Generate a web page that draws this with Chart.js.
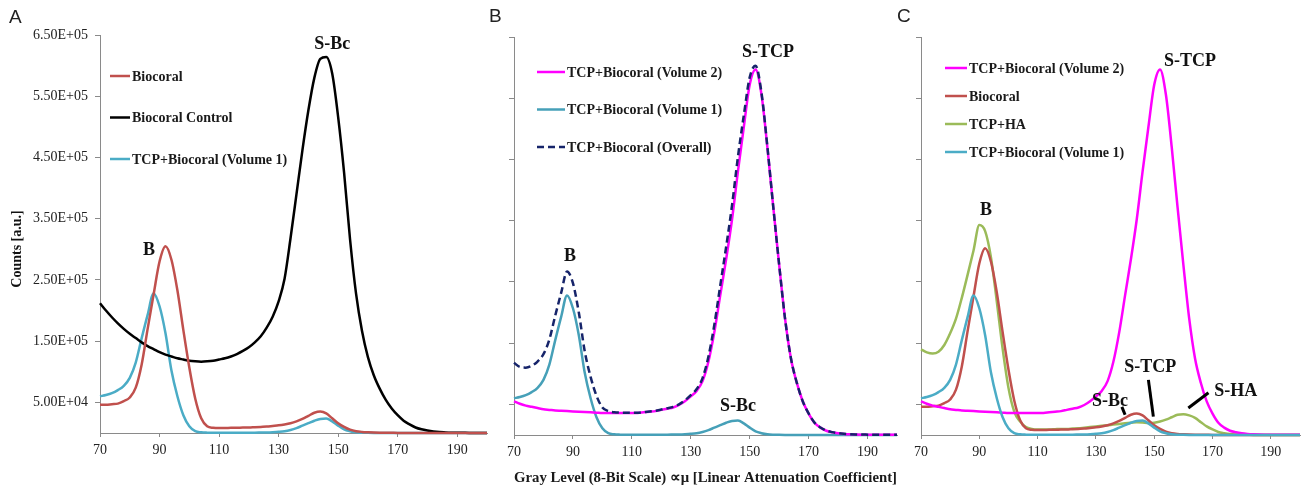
<!DOCTYPE html>
<html>
<head>
<meta charset="utf-8">
<title>Gray level histograms</title>
<script src="https://cdn.jsdelivr.net/npm/chart.js@4.4.1/dist/chart.umd.min.js"></script>
<style>
  body { margin: 0; background: #fff; }
  #wrap { position: relative; width: 1301px; height: 490px; overflow: hidden; }
  #wrap canvas { position: absolute; top: 0; }
  .panel { position: absolute; font-family: "Liberation Sans", Arial, sans-serif; font-size: 19px; color: #222; }
</style>
</head>
<body>
<div id="wrap">
  <canvas id="chartA" width="500" height="490" style="left:0px"></canvas>
  <canvas id="chartB" width="435" height="490" style="left:490px"></canvas>
  <canvas id="chartC" width="396" height="490" style="left:905px"></canvas>
  <div class="panel" style="left:9px;top:6px">A</div>
  <div class="panel" style="left:489px;top:5px">B</div>
  <div class="panel" style="left:897px;top:5px">C</div>
</div>

<script>
// gray level (x), one sample every 2 levels
const grayLevels = [70, 72, 74, 76, 78, 80, 82, 84, 86, 88,
    90, 92, 94, 96, 98, 100, 102, 104, 106, 108,
    110, 112, 114, 116, 118, 120, 122, 124, 126, 128,
    130, 132, 134, 136, 138, 140, 142, 144, 146, 148,
    150, 152, 154, 156, 158, 160, 162, 164, 166, 168,
    170, 172, 174, 176, 178, 180, 182, 184, 186, 188,
    190, 192, 194, 196, 198, 200];

// counts in thousands
const biocoral = [46, 46, 47, 48, 52, 58, 74, 112, 170, 226,
    280, 305, 283, 233, 168, 107, 56, 24, 11, 8.5,
    8, 8, 8.5, 8.5, 9, 9, 9.5, 10, 10.5, 11.5,
    12.5, 14, 16, 19, 23, 28, 33, 35, 32, 24,
    16, 10, 5.5, 3, 1.8, 1.2, 0.8, 0.5, 0.4, 0.3,
    0.2, 0.2, 0.2, 0.2, 0.2, 0.2, 0.2, 0.2, 0.2, 0.2,
    0.2, 0.2, 0.2, 0.2, 0.2, 0.2];

const biocoralControl = [212, 200, 189, 179, 170, 162, 155, 148, 142, 137,
    132, 128, 125, 122, 120, 118, 117, 116.5, 117, 118,
    120, 122, 125, 129, 134, 140, 148, 158, 172, 190,
    215, 252, 318, 390, 462, 527, 580, 611, 614, 587,
    516, 425, 316, 228, 167, 124, 94, 72, 54, 40,
    29, 20, 14, 9, 6, 4, 2.5, 1.5, 1, 0.6,
    0.4, 0.3, 0.2, 0.2, 0.2, 0.2];

const tcpBiocoralVol1 = [60, 62, 65, 70, 77, 90, 115, 155, 193, 228,
    207, 163, 102, 60, 29, 11, 3, 1.2, 0.6, 0.4,
    0.3, 0.3, 0.3, 0.3, 0.4, 0.5, 0.6, 0.8, 1, 1.4,
    2, 3, 5, 8, 12, 16, 20, 23, 23.5, 19,
    12, 6, 3, 1.2, 0.5, 0.3, 0.2, 0.2, 0.2, 0.2,
    0.2, 0.2, 0.2, 0.2, 0.2, 0.2, 0.2, 0.2, 0.2, 0.2,
    0.2, 0.2, 0.2, 0.2, 0.2, 0.2];

const tcpBiocoralVol2 = [55, 51, 48, 46, 44, 42, 41, 40, 39.5, 39,
    38.5, 38, 37.5, 37, 36.5, 36, 36, 36, 36, 36,
    36, 36, 37, 38, 39, 41, 43, 45, 49, 55,
    63, 72, 88, 120, 168, 228, 287, 352, 430, 503,
    572, 597, 556, 470, 372, 278, 190, 125, 85, 55,
    35, 20, 12, 7, 4.5, 2.8, 1.8, 1.2, 0.8, 0.5,
    0.4, 0.3, 0.3, 0.3, 0.3, 0.3];

const tcpBiocoralOverall = [118, 111, 110, 113, 120, 132, 156, 195, 232, 267,
    248, 200, 137, 95, 64, 45, 39, 37, 36.5, 36.4,
    36.3, 36.3, 37.3, 38.3, 39.4, 41.5, 43.6, 46, 50, 56.5,
    65, 75, 93, 128, 180, 244, 307, 375, 454, 522,
    584, 603, 559, 471, 372.5, 278.3, 190.2, 125.2, 85.2, 55.2,
    35.2, 20.2, 12.2, 7.2, 4.7, 3, 2, 1.4, 1, 0.7,
    0.6, 0.5, 0.5, 0.5, 0.5, 0.5];

const tcpHA = [140, 135, 133, 136, 147, 166, 190, 224, 262, 301,
    343, 333, 290, 218, 141, 77, 38, 22, 13, 10,
    9, 9, 9, 9.5, 10, 10, 10.5, 11, 12, 13,
    14, 15, 16, 17, 18, 19, 20, 21, 20.5, 19.5,
    20, 22, 25, 29, 33, 34, 32, 28, 21, 14,
    9, 5, 3, 1.5, 0.8, 0.4, 0.3, 0.2, 0.2, 0.2,
    0.2, 0.2, 0.2, 0.2, 0.2, 0.2];

const xTicks = [70, 90, 110, 130, 150, 170, 190];
const yTicks = [50, 150, 250, 350, 450, 550, 650];
const yTickLabels = ['5.00E+04', '1.50E+05', '2.50E+05', '3.50E+05', '4.50E+05', '5.50E+05', '6.50E+05'];

const serif = '"Liberation Serif", "Times New Roman", serif';

function pts(series) {
    return grayLevels.map((g, i) => ({ x: g, y: series[i] }));
}

function line(label, series, color, extra) {
    return Object.assign({
        label: label,
        data: pts(series),
        borderColor: color,
        backgroundColor: color,
        borderWidth: 2.5,
        pointRadius: 0,
        cubicInterpolationMode: 'monotone',
        clip: 6
    }, extra || {});
}

// legend, labels and leader lines drawn on top of the curves
function makeDecor(cfg) {
    return {
        id: 'decor',
        afterDatasetsDraw(chart) {
            const ctx = chart.ctx;
            const sx = chart.scales.x, sy = chart.scales.y;
            ctx.save();

            const lg = cfg.legend;
            ctx.font = 'bold 14px ' + serif;
            ctx.textBaseline = 'middle';
            ctx.textAlign = 'left';
            lg.items.forEach((idx, row) => {
                const ds = chart.data.datasets[idx];
                const yy = lg.y + row * lg.rowGap;
                ctx.strokeStyle = ds.borderColor;
                ctx.lineWidth = ds.borderWidth;
                ctx.setLineDash(ds.borderDash || []);
                ctx.beginPath();
                ctx.moveTo(lg.x, yy);
                ctx.lineTo(lg.x + lg.lineLen, yy);
                ctx.stroke();
                ctx.setLineDash([]);
                ctx.fillStyle = '#1a1a1a';
                ctx.fillText(ds.label, lg.x + lg.lineLen + 2, yy + 1);
            });

            ctx.strokeStyle = '#000';
            ctx.lineWidth = 3;
            (cfg.leaders || []).forEach(l => {
                ctx.beginPath();
                ctx.moveTo(sx.getPixelForValue(l.x1), sy.getPixelForValue(l.y1));
                ctx.lineTo(sx.getPixelForValue(l.x2), sy.getPixelForValue(l.y2));
                ctx.stroke();
            });

            ctx.font = 'bold 18px ' + serif;
            ctx.textAlign = 'center';
            ctx.fillStyle = '#111';
            (cfg.notes || []).forEach(n => {
                ctx.fillText(n.text, sx.getPixelForValue(n.x), sy.getPixelForValue(n.y));
            });

            if (cfg.yTitle) {
                ctx.translate(cfg.yTitle.x, cfg.yTitle.y);
                ctx.rotate(-Math.PI / 2);
                ctx.font = 'bold 14px ' + serif;
                ctx.fillText(cfg.yTitle.text, 0, 0);
            }
            ctx.restore();
        }
    };
}

function makeChart(id, datasets, box, decor, showYLabels, xTitle) {
    const ctx = document.getElementById(id).getContext('2d');
    return new Chart(ctx, {
        type: 'line',
        data: { datasets: datasets },
        options: {
            responsive: false,
            animation: false,
            events: [],
            layout: { padding: { top: box.top, right: box.right, left: 0, bottom: 0 } },
            plugins: { legend: { display: false }, tooltip: { enabled: false } },
            scales: {
                x: {
                    type: 'linear',
                    min: 70,
                    max: 200,
                    afterBuildTicks: s => { s.ticks = xTicks.map(v => ({ value: v })); },
                    afterFit: s => { s.height = box.xHeight; },
                    grid: { drawOnChartArea: false, drawTicks: true, tickLength: 4, color: '#8a8a8a' },
                    border: { color: '#8a8a8a', width: 1 },
                    ticks: { color: '#222', padding: 5, maxRotation: 0, font: { family: serif, size: 14 } },
                    title: {
                        display: !!xTitle,
                        text: xTitle || '',
                        color: '#1a1a1a',
                        font: { family: serif, size: 15, weight: 'bold' },
                        padding: { top: 4, bottom: 3 }
                    }
                },
                y: {
                    min: 0,
                    max: 650,
                    afterBuildTicks: s => { s.ticks = yTicks.map(v => ({ value: v })); },
                    afterFit: s => { s.width = box.left; },
                    grid: { drawOnChartArea: false, drawTicks: true, tickLength: 5, color: '#8a8a8a' },
                    border: { color: '#8a8a8a', width: 1 },
                    ticks: {
                        color: '#222',
                        padding: 7,
                        font: { family: serif, size: 14 },
                        callback: (v, i) => showYLabels ? yTickLabels[i] : ''
                    }
                }
            }
        },
        plugins: [makeDecor(decor)]
    });
}

// Panel A
makeChart('chartA', [
    line('Biocoral', biocoral, '#C0504D'),
    line('Biocoral Control', biocoralControl, '#000000'),
    line('TCP+Biocoral (Volume 1)', tcpBiocoralVol1, '#4BACC6')
], { left: 100, right: 13, top: 35, xHeight: 57 }, {
    legend: { x: 110, y: 76, rowGap: 41.5, lineLen: 20, items: [0, 1, 2] },
    notes: [
        { text: 'S-Bc', x: 148, y: 634 },
        { text: 'B', x: 86.5, y: 299 }
    ],
    yTitle: { text: 'Counts [a.u.]', x: 17.5, y: 249 }
}, true, '');

// Panel B
makeChart('chartB', [
    line('TCP+Biocoral (Volume 2)', tcpBiocoralVol2, '#FF00FF'),
    line('TCP+Biocoral (Volume 1)', tcpBiocoralVol1, '#46A0B8'),
    line('TCP+Biocoral (Overall)', tcpBiocoralOverall, '#16246A', { borderDash: [7, 4], order: -1 })
], { left: 24, right: 28, top: 37, xHeight: 55 }, {
    legend: { x: 47, y: 72, rowGap: 37.5, lineLen: 28, items: [0, 1, 2] },
    notes: [
        { text: 'S-TCP', x: 156.2, y: 625 },
        { text: 'B', x: 89, y: 291 },
        { text: 'S-Bc', x: 146, y: 46 }
    ]
}, false, 'Gray Level (8-Bit Scale) \u221D\u03BC [Linear Attenuation Coefficient]');

// Panel C
makeChart('chartC', [
    line('TCP+Biocoral (Volume 2)', tcpBiocoralVol2, '#FF00FF'),
    line('Biocoral', biocoral, '#C0504D'),
    line('TCP+HA', tcpHA, '#9BBB59'),
    line('TCP+Biocoral (Volume 1)', tcpBiocoralVol1, '#4BACC6', { order: -1 })
], { left: 16, right: 1, top: 37, xHeight: 55 }, {
    legend: { x: 40, y: 68, rowGap: 28, lineLen: 22, items: [0, 1, 2, 3] },
    notes: [
        { text: 'S-TCP', x: 162.3, y: 611 },
        { text: 'B', x: 92.3, y: 367 },
        { text: 'S-TCP', x: 148.6, y: 111 },
        { text: 'S-Bc', x: 134.8, y: 55 },
        { text: 'S-HA', x: 178, y: 71 }
    ],
    leaders: [
        { x1: 148.0, y1: 90, x2: 149.7, y2: 30 },
        { x1: 138.9, y1: 46, x2: 140.0, y2: 33 },
        { x1: 168.6, y1: 69, x2: 161.7, y2: 44 }
    ]
}, false, '');
</script>
</body>
</html>
